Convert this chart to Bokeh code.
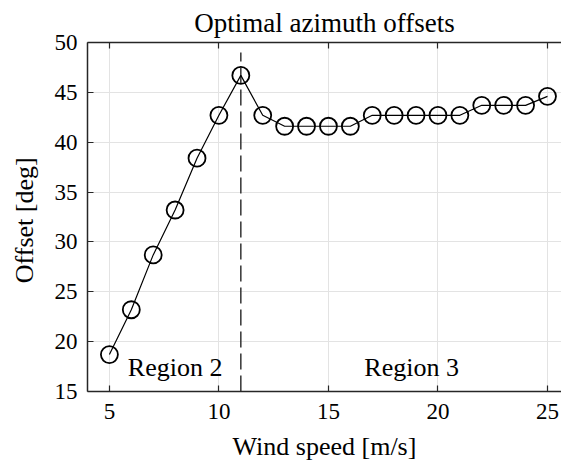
from bokeh.plotting import figure
from bokeh.models import Range1d, LinearAxis, FixedTicker, Label, CustomJSTickFormatter
from bokeh.embed import file_html
from bokeh.resources import INLINE

wind_speed = [5, 6, 7, 8, 9, 10, 11, 12, 13, 14, 15, 16, 17, 18, 19, 20, 21, 22, 23, 24, 25]
offset_deg = [18.7, 23.2, 28.7, 33.2, 38.4, 42.7, 46.7, 42.7, 41.6, 41.6, 41.6, 41.6,
              42.7, 42.7, 42.7, 42.7, 42.7, 43.7, 43.7, 43.7, 44.6]
x_ticks = [5, 10, 15, 20, 25]
y_ticks = [15, 20, 25, 30, 35, 40, 45, 50]
boundary_x = [11, 11]
boundary_y = [15, 49]
region_labels = ["Region 2", "Region 3"]
region_x = [8.0, 18.8]
region_y = [17.45, 17.45]

FONT = "Liberation Serif"
AX = "#262626"
BIG = "26px"
TICK = "23px"

p = figure(width=561, height=464, output_backend="svg", toolbar_location=None,
           x_range=Range1d(4, 25.64), y_range=Range1d(15, 50),
           min_border_left=87, min_border_right=0, min_border_top=42, min_border_bottom=73,
           title="Optimal azimuth offsets")
p.outline_line_color = None
p.background_fill_color = "white"
p.border_fill_color = "white"

p.title.text_font = FONT
p.title.text_font_size = "27px"
p.title.text_font_style = "normal"
p.title.text_color = "black"
p.title.align = "center"
p.title.offset = 3
p.title.standoff = 10

for ax in [p.xaxis[0], p.yaxis[0]]:
    ax.axis_line_color = AX
    ax.axis_line_width = 1.5
    ax.major_tick_line_color = AX
    ax.major_tick_line_width = 1.2
    ax.major_tick_in = 6
    ax.major_tick_out = 0
    ax.minor_tick_line_color = None
    ax.major_label_text_font = FONT
    ax.major_label_text_font_size = TICK
    ax.major_label_text_color = "black"
    ax.axis_label_text_font = FONT
    ax.axis_label_text_font_size = BIG
    ax.axis_label_text_font_style = "normal"
    ax.axis_label_text_color = "black"

p.xaxis.ticker = FixedTicker(ticks=x_ticks)
p.yaxis.ticker = FixedTicker(ticks=y_ticks)
p.xaxis.axis_label = "Wind speed [m/s]"
p.yaxis.axis_label = "Offset  [deg]"
p.xaxis.major_label_standoff = 12
p.yaxis.major_label_standoff = 10
p.xaxis.axis_label_standoff = 10
p.yaxis.axis_label_standoff = 13

top = LinearAxis(ticker=FixedTicker(ticks=x_ticks),
                 formatter=CustomJSTickFormatter(code="return ''"))
top.axis_line_color = AX
top.axis_line_width = 1.5
top.major_tick_line_color = AX
top.major_tick_line_width = 1.2
top.major_tick_in = 6
top.major_tick_out = 0
top.minor_tick_line_color = None
top.major_label_text_font_size = "1px"
top.major_label_standoff = 0
p.add_layout(top, "above")

p.xgrid.grid_line_color = "#e3e3e3"
p.ygrid.grid_line_color = "#e3e3e3"
p.xgrid.ticker = FixedTicker(ticks=x_ticks)
p.ygrid.ticker = FixedTicker(ticks=y_ticks)

p.line(boundary_x, boundary_y, line_color="#333333", line_width=1.5, line_dash="16 6")
p.line(wind_speed, offset_deg, line_color="black", line_width=1.2)
p.scatter(wind_speed, offset_deg, marker="circle", size=17, fill_color=None,
          line_color="black", line_width=1.8)

for t, x, y in zip(region_labels, region_x, region_y):
    p.add_layout(Label(x=x, y=y, text=t, text_font=FONT, text_font_size=BIG,
                       text_align="center", text_baseline="alphabetic", text_color="black"))

open("out.html", "w").write(file_html(p, INLINE))
